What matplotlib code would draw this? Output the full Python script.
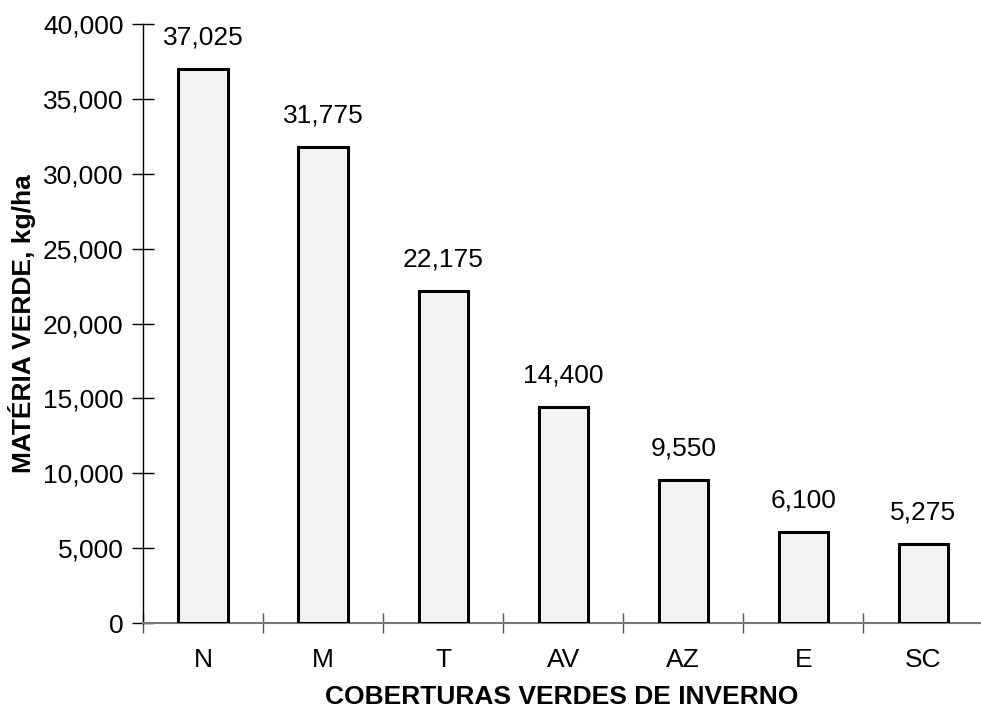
import numpy as np
import matplotlib
matplotlib.use('Agg')
from matplotlib import pyplot as plt
from matplotlib.ticker import FuncFormatter

categories = ['N', 'M', 'T', 'AV', 'AZ', 'E', 'SC']
materia_verde = [37025, 31775, 22175, 14400, 9550, 6100, 5275]
y_ticks = [0, 5000, 10000, 15000, 20000, 25000, 30000, 35000, 40000]

plt.rcParams['font.family'] = ['Liberation Sans', 'DejaVu Sans']

fig = plt.figure(figsize=(9.81, 7.08), dpi=100)
ax = fig.add_axes([0.1458, 0.12, 0.8542, 0.846])

x = np.arange(len(categories))
bars = ax.bar(x, materia_verde, width=0.41, color='#f4f4f4', edgecolor='black',
              linewidth=2.2, zorder=3)

for xi, val in zip(x, materia_verde):
    ax.annotate(f'{val:,}', (xi, val), xytext=(0, 14), textcoords='offset points',
                ha='center', va='bottom', fontsize=19)

ax.set_xlim(-0.5, 6.48)
ax.set_ylim(0, 40000)
ax.set_yticks(y_ticks)
ax.yaxis.set_major_formatter(FuncFormatter(lambda v, p: f'{int(v):,}'))

# category ticks: labels at centers, tick marks at boundaries
ax.set_xticks(x)
ax.set_xticklabels(categories, fontsize=19)
ax.tick_params(axis='x', which='major', length=0, pad=18)
ax.set_xticks(np.arange(-0.5, 6.5, 1), minor=True)
ax.tick_params(axis='x', which='minor', direction='inout', length=15, width=1, color='#555555')
ax.tick_params(axis='y', direction='inout', length=16, width=1, labelsize=19, pad=6)

for s in ['top', 'right']:
    ax.spines[s].set_visible(False)
ax.spines['left'].set_linewidth(1)
ax.spines['bottom'].set_color('#777777')
ax.spines['bottom'].set_linewidth(1.5)

ax.set_xlabel('COBERTURAS VERDES DE INVERNO', fontsize=19, fontweight='bold', labelpad=9)
ax.set_ylabel('MATÉRIA VERDE, kg/ha', fontsize=19, fontweight='bold', labelpad=5)

fig.savefig('out.png', dpi=100)
